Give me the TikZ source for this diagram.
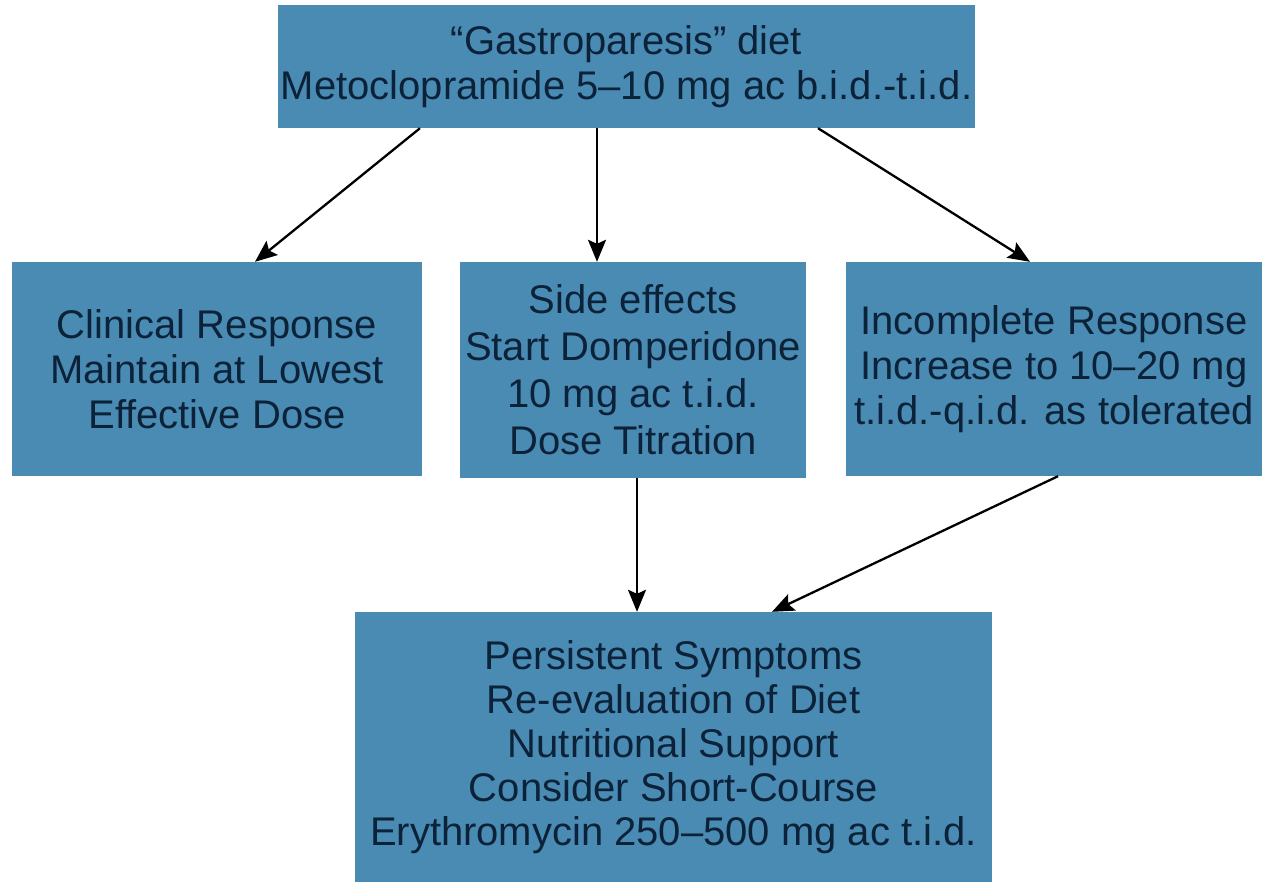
\documentclass[tikz,border=0pt]{standalone}
\usepackage{fontspec}
\setmainfont{Liberation Sans}
\usetikzlibrary{arrows.meta}
\definecolor{boxblue}{RGB}{74,139,180}
\definecolor{txtnavy}{RGB}{12,34,56}
\tikzset{
  box/.style={rectangle, fill=boxblue, draw=none, align=center, text=txtnavy,
    inner sep=0pt, font=\fontsize{40}{45}\selectfont},
  arr/.style={draw=black, line width=2.3pt, -{Stealth[length=22pt,width=18pt,inset=4pt]}}
}
\begin{document}
\begin{tikzpicture}[x=1pt,y=-1pt]
\useasboundingbox (0,0) rectangle (1265,884);
\node[box, minimum width=697pt, minimum height=123pt] (top) at (626.5,66.5)
  {``Gastroparesis'' diet\\Metoclopramide 5--10 mg ac b.i.d.-t.i.d.};
\node[box, minimum width=410pt, minimum height=214pt] (left) at (217,369)
  {Clinical Response\\Maintain at Lowest\\Effective Dose};
\node[box, minimum width=346pt, minimum height=216pt, font=\fontsize{40}{47}\selectfont] (mid) at (633,370)
  {Side effects\\Start Domperidone\\10 mg ac t.i.d.\\Dose Titration};
\node[box, minimum width=416pt, minimum height=214pt] (right) at (1054,369)
  {Incomplete Response\\Increase to 10--20 mg\\t.i.d.-q.i.d. as tolerated};
\node[box, minimum width=637pt, minimum height=270pt, font=\fontsize{40}{44}\selectfont] (bot) at (673.5,747)
  {Persistent Symptoms\\Re-evaluation of Diet\\Nutritional Support\\Consider Short-Course\\Erythromycin 250--500 mg ac t.i.d.};
\draw[arr] (top.south -| 420,0) -- (left.north -| 255,0);
\draw[arr] (top.south -| 597,0) -- (mid.north -| 597,0);
\draw[arr] (top.south -| 818,0) -- (right.north -| 1030,0);
\draw[arr] (mid.south -| 637,0) -- (bot.north -| 637,0);
\draw[arr] (right.south -| 1058,0) -- (bot.north -| 772,0);
\end{tikzpicture}
\end{document}
